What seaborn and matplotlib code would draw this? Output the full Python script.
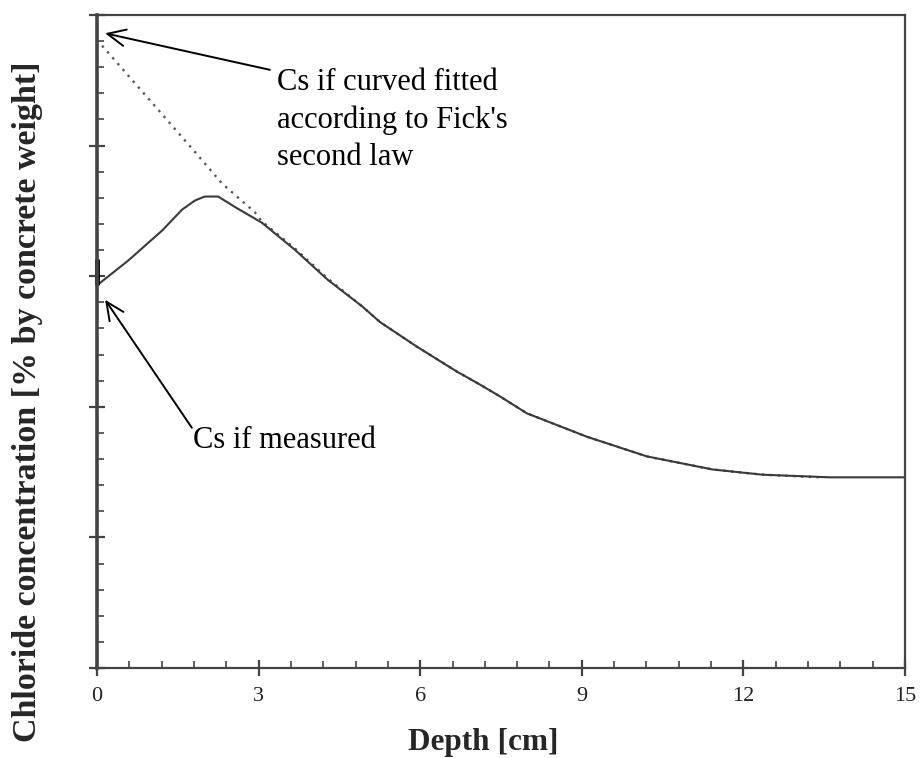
import matplotlib
matplotlib.use("Agg")
import matplotlib.pyplot as plt
import seaborn as sns
import pandas as pd
from matplotlib.ticker import MultipleLocator

# ---- data ----
measured_depth = [0.0, 0.58, 1.21, 1.58, 1.82, 2.00, 2.25, 2.56, 3.06, 3.68, 4.29,
                  4.92, 5.25, 5.94, 6.68, 7.11, 7.48, 7.98, 9.10, 10.21, 11.43,
                  12.36, 13.61, 15.0]
measured_conc = [2.93, 3.12, 3.35, 3.51, 3.58, 3.61, 3.61, 3.53, 3.41, 3.20, 2.97,
                 2.77, 2.65, 2.46, 2.27, 2.17, 2.08, 1.95, 1.77, 1.62, 1.52,
                 1.48, 1.46, 1.46]
fitted_depth = [0.0, 1.78, 2.32, 2.93, 3.06, 3.68, 4.29, 4.92, 5.25, 5.94, 6.68,
                7.11, 7.48, 7.98, 9.10, 10.21, 11.43, 12.36, 13.42]
fitted_conc = [4.81, 3.97, 3.71, 3.49, 3.42, 3.21, 2.98, 2.77, 2.65, 2.46, 2.27,
               2.17, 2.08, 1.95, 1.77, 1.62, 1.52, 1.48, 1.46]
measured_range = [2.93, 3.13]
x_ticks = [0, 3, 6, 9, 12, 15]

sns.set_style("ticks")
plt.rcParams["font.family"] = ["Liberation Serif", "DejaVu Serif"]

fig = plt.figure(figsize=(9.23, 7.58), dpi=100)
ax = fig.add_axes([97/923, 1-668/758, 808/923, 653/758])

df_m = pd.DataFrame({"depth": measured_depth, "conc": measured_conc})
df_f = pd.DataFrame({"depth": fitted_depth, "conc": fitted_conc})
sns.lineplot(data=df_f, x="depth", y="conc", ax=ax, color="#555555", lw=1.7,
             linestyle=(0, (1, 2.3)), sort=False)
sns.lineplot(data=df_m, x="depth", y="conc", ax=ax, color="#3a3a3a", lw=1.5, sort=False)
ax.plot([0, 0], measured_range, color="black", lw=3.5, solid_capstyle="butt", clip_on=False)

ax.set_xlim(0, 15)
ax.set_ylim(0, 5)
ax.set_xticks(x_ticks)
ax.set_xticklabels([str(t) for t in x_ticks])
ax.xaxis.set_minor_locator(MultipleLocator(0.6))
ax.yaxis.set_major_locator(MultipleLocator(1))
ax.yaxis.set_minor_locator(MultipleLocator(0.2))
ax.set_yticklabels([])
ax.set_xlabel("")
ax.set_ylabel("")

for s in ["left", "bottom", "right", "top"]:
    ax.spines[s].set_color("#444444")
    ax.spines[s].set_linewidth(1.6)
ax.spines["left"].set_linewidth(2.6)

ax.tick_params(which="major", direction="inout", length=11, width=1.6, color="#444444",
               labelsize=16, pad=8, labelcolor="#222222")
ax.tick_params(which="minor", direction="in", length=5, width=1.2, color="#444444")

# annotations
arrow = dict(arrowstyle="->,head_length=1.3,head_width=0.6", color="black", lw=1.4,
             shrinkA=0, shrinkB=0)
ax.annotate("", xy=(0.15, 4.86), xytext=(3.21, 4.58), arrowprops=arrow)
ax.annotate("", xy=(0.15, 2.82), xytext=(1.76, 1.84), arrowprops=arrow)
ax.text(3.34, (668 - 68) / 130.6, "Cs if curved fitted\naccording to Fick's\nsecond law",
        fontsize=22, va="top", ha="left", linespacing=1.37, color="black")
ax.text(1.78, 1.685, "Cs if measured", fontsize=22, va="baseline", ha="left", color="black")

fig.text(28/923, 1-402/758, "Chloride concentration [% by concrete weight]", rotation=90,
         ha="center", va="center", fontsize=24.5, fontweight="bold")
fig.text(483/923, 1-750/758, "Depth [cm]", ha="center", va="baseline", fontsize=22.5,
         fontweight="bold")

fig.savefig("out.png", dpi=100)
